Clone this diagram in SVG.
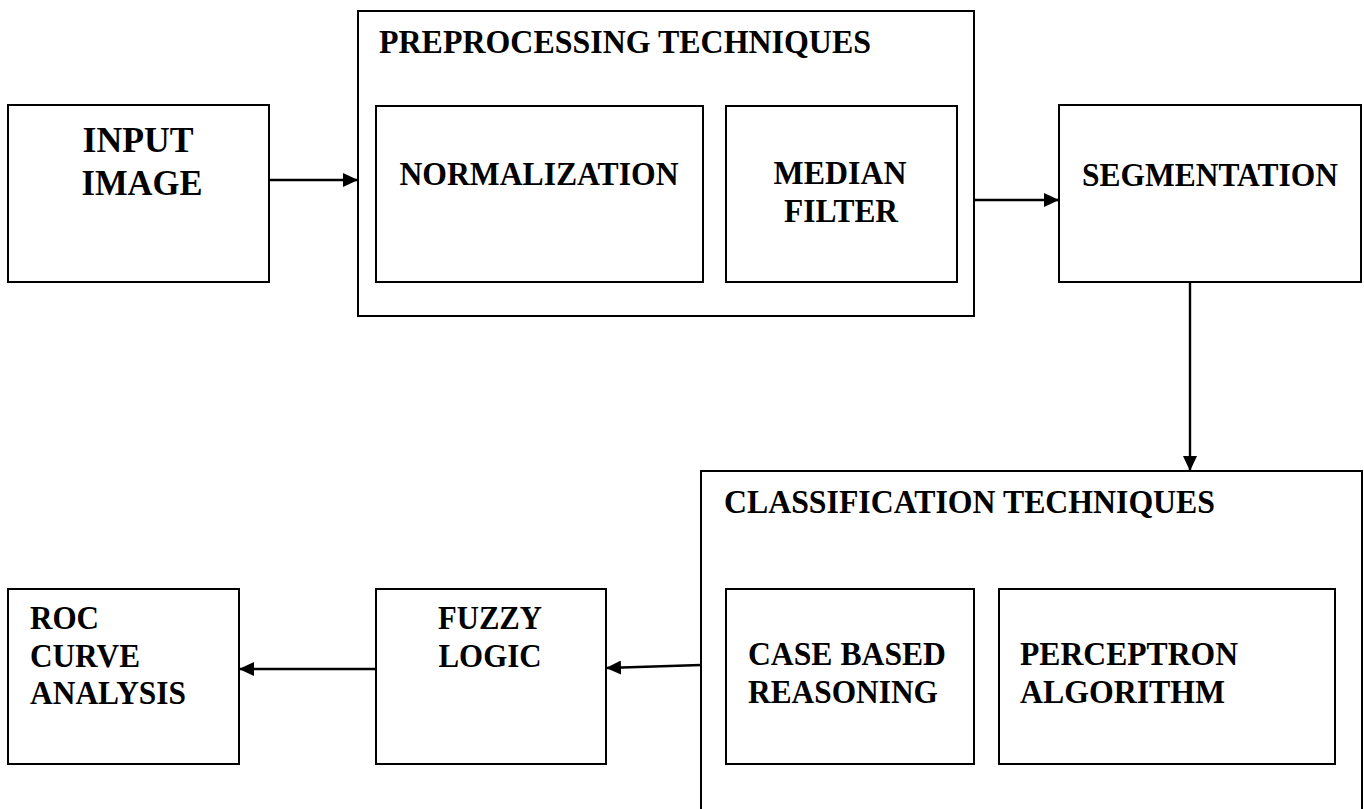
<svg xmlns="http://www.w3.org/2000/svg" width="1364" height="809" viewBox="0 0 1364 809">
<style>
.box{fill:#fff;stroke:#000;stroke-width:2}
.grp{fill:none;stroke:#000;stroke-width:2}
.t{font-family:"Liberation Serif","Times New Roman",serif;font-weight:bold;font-size:33px;fill:#000}
.big{font-size:36px}
.c{text-anchor:middle}
.edge{fill:none;stroke:#000;stroke-width:2.4}
</style>
<defs>
<marker id="ah" markerUnits="userSpaceOnUse" markerWidth="16" markerHeight="14" refX="15" refY="7" orient="auto">
<path d="M0,0 L15,7 L0,14 Z" fill="#000"/>
</marker>
</defs>
<rect width="1364" height="809" fill="#fff"/>
<g id="input-image">
<rect class="box" x="8" y="105" width="261" height="177"/>
<text class="t big c" x="138" y="152" textLength="111" lengthAdjust="spacingAndGlyphs">INPUT</text>
<text class="t big c" x="142" y="195" textLength="121" lengthAdjust="spacingAndGlyphs">IMAGE</text>
</g>
<g id="preprocessing">
<rect class="grp" x="358" y="11" width="616" height="305"/>
<text class="t" x="379" y="53" textLength="492" lengthAdjust="spacingAndGlyphs">PREPROCESSING TECHNIQUES</text>
</g>
<g id="normalization">
<rect class="box" x="376" y="106" width="327" height="176"/>
<text class="t c" x="539" y="185" textLength="279" lengthAdjust="spacingAndGlyphs">NORMALIZATION</text>
</g>
<g id="median-filter">
<rect class="box" x="726" y="106" width="231" height="176"/>
<text class="t c" x="840" y="184" textLength="133" lengthAdjust="spacingAndGlyphs">MEDIAN</text>
<text class="t c" x="841" y="222" textLength="114" lengthAdjust="spacingAndGlyphs">FILTER</text>
</g>
<g id="segmentation">
<rect class="box" x="1059" y="105" width="302" height="177"/>
<text class="t c" x="1210" y="186" textLength="256" lengthAdjust="spacingAndGlyphs">SEGMENTATION</text>
</g>
<g id="classification">
<rect class="grp" x="701" y="471" width="661" height="360"/>
<text class="t" x="724" y="513" textLength="491" lengthAdjust="spacingAndGlyphs">CLASSIFICATION TECHNIQUES</text>
</g>
<g id="case-based-reasoning">
<rect class="box" x="726" y="589" width="248" height="175"/>
<text class="t" x="748" y="665" textLength="198" lengthAdjust="spacingAndGlyphs">CASE BASED</text>
<text class="t" x="748" y="703" textLength="190" lengthAdjust="spacingAndGlyphs">REASONING</text>
</g>
<g id="perceptron-algorithm">
<rect class="box" x="999" y="589" width="336" height="175"/>
<text class="t" x="1020" y="665" textLength="218" lengthAdjust="spacingAndGlyphs">PERCEPTRON</text>
<text class="t" x="1020" y="703" textLength="205" lengthAdjust="spacingAndGlyphs">ALGORITHM</text>
</g>
<g id="fuzzy-logic">
<rect class="box" x="376" y="589" width="230" height="175"/>
<text class="t c" x="490" y="629" textLength="104" lengthAdjust="spacingAndGlyphs">FUZZY</text>
<text class="t c" x="490" y="667" textLength="103" lengthAdjust="spacingAndGlyphs">LOGIC</text>
</g>
<g id="roc-curve-analysis">
<rect class="box" x="8" y="589" width="231" height="175"/>
<text class="t" x="30" y="629" textLength="69" lengthAdjust="spacingAndGlyphs">ROC</text>
<text class="t" x="30" y="667" textLength="110" lengthAdjust="spacingAndGlyphs">CURVE</text>
<text class="t" x="30" y="704" textLength="156" lengthAdjust="spacingAndGlyphs">ANALYSIS</text>
</g>
<g id="connectors">
<line class="edge" x1="269" y1="180" x2="358" y2="180" marker-end="url(#ah)"/>
<line class="edge" x1="974" y1="200" x2="1059" y2="200" marker-end="url(#ah)"/>
<line class="edge" x1="1190" y1="282" x2="1190" y2="471" marker-end="url(#ah)"/>
<line class="edge" x1="701" y1="665" x2="606" y2="668" marker-end="url(#ah)"/>
<line class="edge" x1="376" y1="669" x2="239" y2="669" marker-end="url(#ah)"/>
</g>
</svg>
